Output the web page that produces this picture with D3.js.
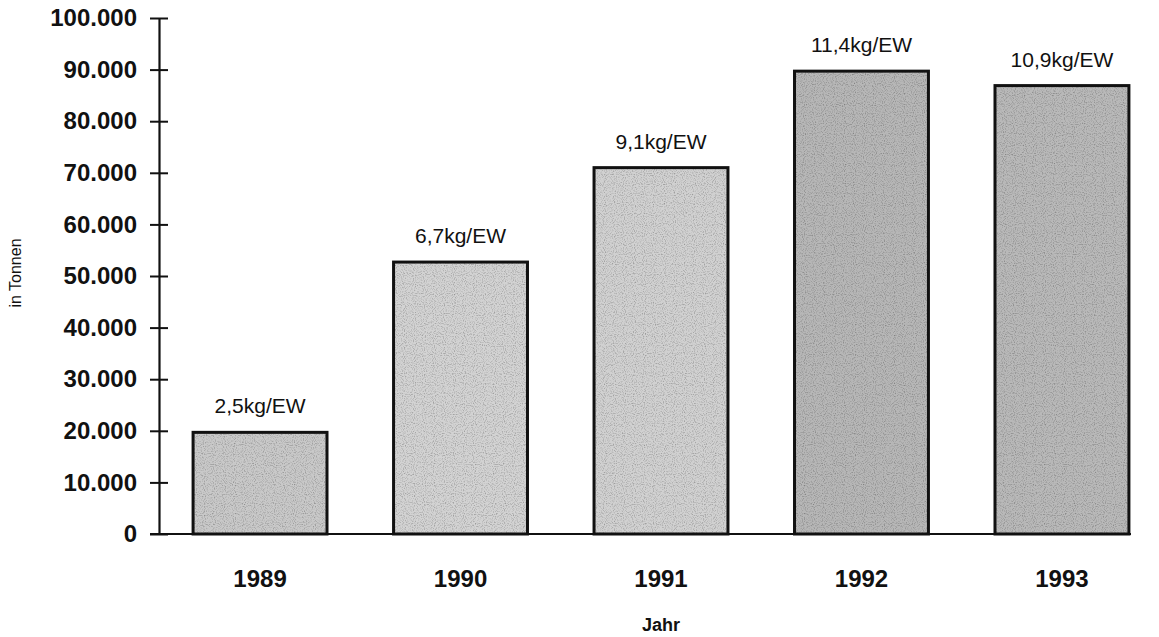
<!DOCTYPE html>
<html><head><meta charset="utf-8">
<script src="https://cdn.jsdelivr.net/npm/d3@7/dist/d3.min.js"></script>
<style>body{margin:0;background:#fff}svg{display:block}text{font-family:"Liberation Sans",Arial,sans-serif;fill:#111}</style>
</head><body><svg id="c" width="1159" height="637"></svg>
<script>
const years = ["1989","1990","1991","1992","1993"];
const tonnes = [19700, 52700, 71000, 89700, 86900];
const perCapita = ["2,5kg/EW","6,7kg/EW","9,1kg/EW","11,4kg/EW","10,9kg/EW"];
const barColors = ["#c9c9c9","#d3d3d3","#d1d1d1","#b7b7b7","#b9b9b9"];
const yTicks = [0,10000,20000,30000,40000,50000,60000,70000,80000,90000,100000];
const fmt = v => d3.format(",")(v).replace(/,/g,".");

const svg = d3.select("#c");
// halftone-like texture
const defs = svg.append("defs");
const f = defs.append("filter").attr("id","grain").attr("x",0).attr("y",0).attr("width",1).attr("height",1);
f.append("feTurbulence").attr("type","fractalNoise").attr("baseFrequency",0.9).attr("numOctaves",1).attr("seed",3).attr("result","n");
f.append("feColorMatrix").attr("in","n").attr("type","matrix")
  .attr("values","0 0 0 0 0  0 0 0 0 0  0 0 0 0 0  0 0 0 -1.4 0.75").attr("result","a");
f.append("feComposite").attr("in","a").attr("in2","SourceGraphic").attr("operator","in").attr("result","dots");
f.append("feMerge").selectAll("feMergeNode").data(["SourceGraphic","dots"]).join("feMergeNode").attr("in",d=>d);

const x = d3.scaleBand().domain(years).range([159,1163]).paddingInner(0.332).paddingOuter(0.17);
const y = d3.scaleLinear().domain([0,100000]).range([534,18]);

// bars (fill with texture)
svg.selectAll("rect.fill").data(years).join("rect").attr("class","fill")
  .attr("x", d=>x(d)).attr("width", x.bandwidth())
  .attr("y", (d,i)=>y(tonnes[i])).attr("height", (d,i)=>y(0)-y(tonnes[i]))
  .attr("fill",(d,i)=>barColors[i]).attr("filter","url(#grain)");
svg.selectAll("rect.bar").data(years).join("rect").attr("class","bar")
  .attr("x", d=>x(d)).attr("width", x.bandwidth())
  .attr("y", (d,i)=>y(tonnes[i])).attr("height", (d,i)=>y(0)-y(tonnes[i]))
  .attr("fill","none").attr("stroke","#111").attr("stroke-width",3);

// bar labels
svg.selectAll("text.lab").data(years).join("text")
  .attr("x", d=>x(d)+x.bandwidth()/2).attr("y",(d,i)=>y(tonnes[i])-19)
  .attr("text-anchor","middle").attr("font-size",21)
  .text((d,i)=>perCapita[i]);

// y axis
const yAxis = d3.axisLeft(y).tickValues(yTicks).tickFormat(fmt).tickSize(0).tickPadding(22);
const ga = svg.append("g").attr("transform","translate(159,0)").call(yAxis);
ga.select(".domain").attr("stroke","#111").attr("stroke-width",2.2);
ga.selectAll(".tick text").attr("font-size",24).attr("font-weight","bold").attr("fill","#111").attr("font-family","Liberation Sans, Arial, sans-serif");
ga.selectAll(".tick").append("line").attr("x1",-9).attr("x2",9).attr("stroke","#111").attr("stroke-width",2);

// baseline
svg.append("line").attr("x1",150).attr("x2",1131).attr("y1",y(0)).attr("y2",y(0)).attr("stroke","#111").attr("stroke-width",2.2);

// x axis labels
const xAxis = d3.axisBottom(x).tickSize(0).tickPadding(36);
const gx = svg.append("g").attr("transform",`translate(0,${y(0)})`).call(xAxis);
gx.select(".domain").remove();
gx.selectAll(".tick text").attr("font-size",24).attr("font-weight","bold").attr("fill","#111").attr("font-family","Liberation Sans, Arial, sans-serif");

// axis titles
svg.append("text").attr("x",661).attr("y",631).attr("text-anchor","middle").attr("font-size",18).attr("font-weight","bold").text("Jahr");
svg.append("text").attr("transform","translate(21,273) rotate(-90)").attr("text-anchor","middle").attr("font-size",16).text("in Tonnen");
</script></body></html>
